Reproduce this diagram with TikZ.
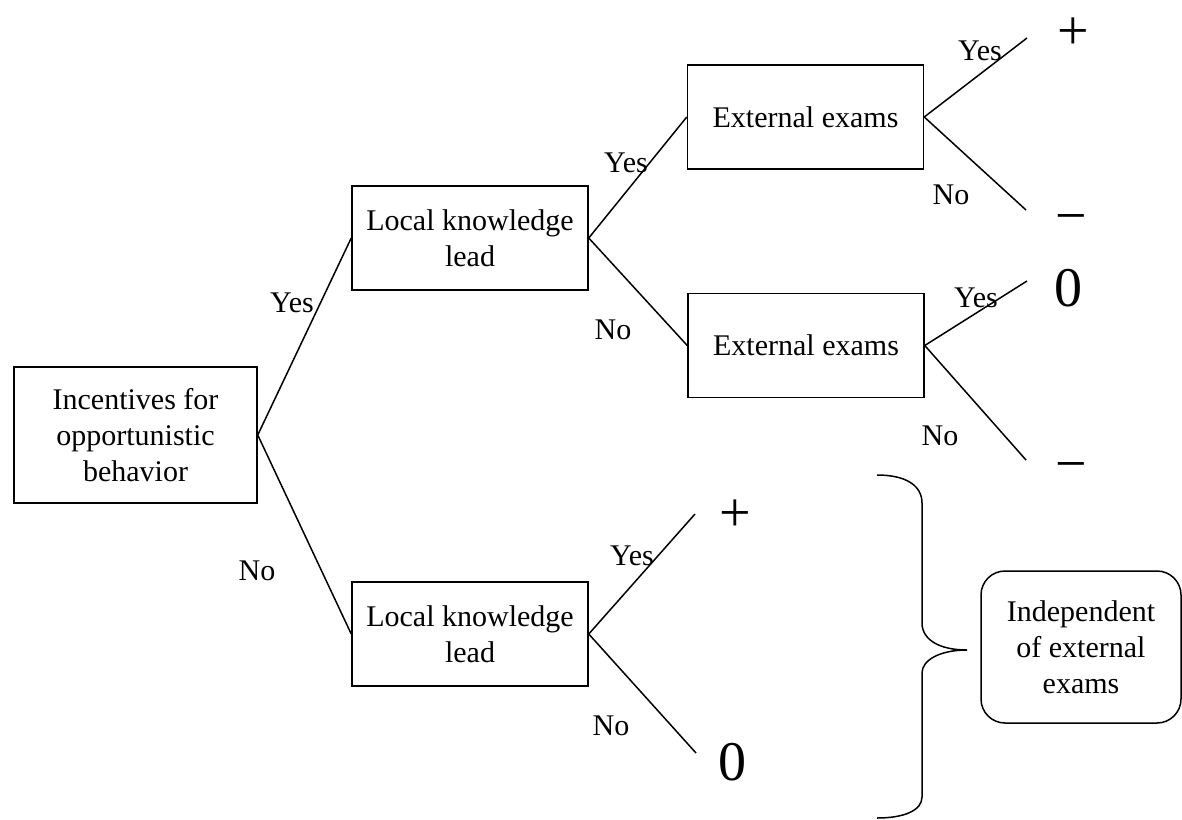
\documentclass[tikz,border=0pt]{standalone}
\usepackage{fontspec}
\setmainfont{Liberation Serif}
\begin{document}
\begin{tikzpicture}[
        x=0.5pt, y=-0.5pt, line width=0.75pt,
        box/.style={draw, align=center, font=\fontsize{15}{18}\selectfont,
            minimum width=118pt, minimum height=52pt},
        note/.style={box, rounded corners=12pt, minimum width=100pt, minimum height=76pt},
        lbl/.style={anchor=base, font=\fontsize{15}{18}\selectfont},
        pay/.style={font=\fontsize{28}{30}\selectfont, inner sep=0pt},
    ]
    \useasboundingbox (0,0) rectangle (1182,819);

    \node[box, minimum width=121.5pt, minimum height=68pt] (incent) at (135.5,435)
        {Incentives for\\opportunistic\\behavior};
    \node[box] (local1) at (470,238) {Local knowledge\\lead};
    \node[box] (local2) at (470,634) {Local knowledge\\lead};
    \node[box] (exams1) at (805.5,117) {External exams};
    \node[box] (exams2) at (806,345.5) {External exams};
    \node[note] (indep) at (1081,647) {Independent\\of external\\exams};

    \coordinate (e1yes) at (1027,38);
    \coordinate (e1no) at (1026,210);
    \coordinate (e2yes) at (1027,281);
    \coordinate (e2no) at (1026,460);
    \coordinate (l2yes) at (695,514);
    \coordinate (l2no) at (696,753);

    \draw (local1.west) -- (incent.east) -- (local2.west);
    \draw (exams1.west) -- (local1.east) -- (exams2.west);
    \draw (e1yes) -- (exams1.east) -- (e1no);
    \draw (e2yes) -- (exams2.east) -- (e2no);
    \draw (l2yes) -- (local2.east) -- (l2no);

    \node[lbl] (yes0) at (292,312) {Yes};
    \node[lbl] (no0) at (257,580) {No};
    \node[lbl] (yes1) at (626,172) {Yes};
    \node[lbl] (no1) at (613,339) {No};
    \node[lbl] (yes2) at (980,60) {Yes};
    \node[lbl] (no2) at (951,204) {No};
    \node[lbl] (yes3) at (976,307) {Yes};
    \node[lbl] (no3) at (940,445) {No};
    \node[lbl] (yes4) at (632,565) {Yes};
    \node[lbl] (no4) at (611,735) {No};

    \node[pay] (pay1) at (1073,34) {+};
    \node[pay] (pay2) at (1071,225) {−};
    \node[pay] (pay3) at (1068,288) {0};
    \node[pay] (pay4) at (1071,472) {−};
    \node[pay] (pay5) at (735,516) {+};
    \node[pay] (pay6) at (732,762) {0};

    \draw (877,475) .. controls (905,475) and (922,485) .. (922,503)
        -- (922,623) .. controls (922,640) and (940,650) .. (967,650)
        .. controls (940,650) and (922,660) .. (922,673)
        -- (922,797) .. controls (922,810) and (905,818) .. (877,818);
\end{tikzpicture}
\end{document}
